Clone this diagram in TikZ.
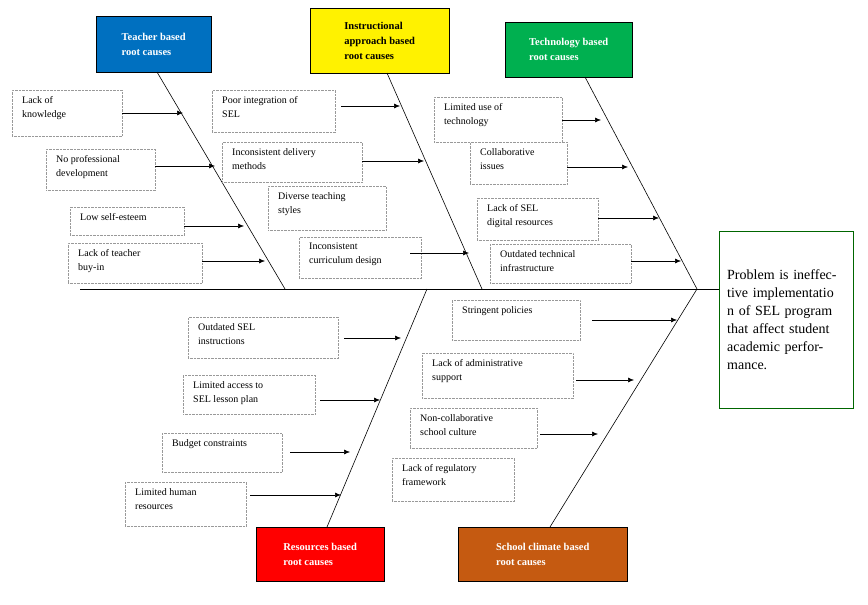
\documentclass[tikz,border=0pt]{standalone}
\usepackage{fontspec}
\setmainfont{Liberation Serif}
\usetikzlibrary{positioning,arrows.meta}

\tikzset{
  cause/.style={draw=gray!80, densely dotted, align=left, anchor=north west,
    inner sep=0pt, font=\fontsize{10}{13}\selectfont},
  category/.style={draw=black, align=left, anchor=north west, inner xsep=5pt,
    font=\bfseries\fontsize{10.5}{15}\selectfont},
  bone/.style={black, line width=0.6pt},
  push/.style={-{Latex[length=6pt,width=5pt]}, line width=0.6pt}
}
\newcommand{\causebox}[6]{% name, x, y, w, h, text
  \node[cause, minimum width=#4pt, minimum height=#5pt] (#1) at (#2,#3) {};
  \node[anchor=north west, align=left, inner sep=0pt,
    font=\fontsize{10}{14}\selectfont] at ([xshift=10pt,yshift=-6pt]#1.north west) {#6};}

\begin{document}
\begin{tikzpicture}[x=1pt,y=-1pt]
\useasboundingbox (0,0) rectangle (868,605);

% problem
\node[draw=green!40!black, anchor=north west, minimum width=134pt, minimum height=177pt,
  text width=118pt, align=left, font=\fontsize{14}{18}\selectfont] (problem) at (719,231)
  {Problem is ineffective implementatio n of SEL program that affect student academic performance.};

% categories
\node[category, fill={rgb,255:red,0;green,112;blue,192}, text=white, minimum width=115pt, minimum height=56pt] (teacher) at (96,16) {Teacher based\\root causes};
\node[category, fill=yellow, minimum width=139pt, minimum height=65pt] (instruct) at (310,8) {Instructional\\approach based\\root causes};
\node[category, fill={rgb,255:red,0;green,176;blue,80}, text=white, minimum width=127pt, minimum height=55pt] (techno) at (505,22) {Technology based\\root causes};
\node[category, fill=red, text=white, minimum width=128pt, minimum height=54pt] (resource) at (256,527) {Resources based\\root causes};
\node[category, fill={rgb,255:red,197;green,90;blue,17}, text=white, minimum width=169pt, minimum height=54pt] (climate) at (458,527) {School climate based\\root causes};

% spine and bones
\coordinate (tail) at (80,289);
\coordinate (head) at (697,289);
\draw[bone] (tail) -- (problem.west |- tail);
\draw[bone] (157,72) -- (285,289);
\draw[bone] (387,73) -- (482,289);
\draw[bone] (585,77) -- (head);
\draw[bone] (427,289) -- (327,527);
\draw[bone] (head) -- (550,527);

% teacher causes
\causebox{know}{12}{90}{110}{46}{Lack of\\knowledge}
\causebox{profdev}{46}{149}{109}{41}{No professional\\development}
\causebox{esteem}{70}{207}{114}{28}{Low self-esteem}
\causebox{buyin}{68}{243}{134}{40}{Lack of teacher\\buy-in}
\draw[push] (122,113) -- (183,113);
\draw[push] (155,166) -- (215,166);
\draw[push] (184,226) -- (244,226);
\draw[push] (202,261) -- (265,261);

% instructional causes
\causebox{integr}{212}{90}{123}{42}{Poor integration of\\SEL}
\causebox{deliver}{222}{142}{140}{40}{Inconsistent delivery\\methods}
\causebox{styles}{268}{186}{118}{44}{Diverse teaching\\styles}
\causebox{curric}{299}{237}{122}{41}{Inconsistent\\curriculum design}
\draw[push] (341,106) -- (400,106);
\draw[push] (362,161) -- (424,161);
\draw[push] (410,253) -- (469,253);

% technology causes
\causebox{usetech}{434}{97}{128}{45}{Limited use of\\technology}
\causebox{collab}{470}{142}{97}{42}{Collaborative\\issues}
\causebox{digital}{477}{198}{121}{42}{Lack of SEL\\digital resources}
\causebox{infra}{490}{244}{141}{39}{Outdated technical\\infrastructure}
\draw[push] (562,120) -- (601,120);
\draw[push] (567,167) -- (628,167);
\draw[push] (598,218) -- (659,218);
\draw[push] (631,261) -- (681,261);

% resource causes
\causebox{instr}{188}{317}{150}{41}{Outdated SEL\\instructions}
\causebox{lesson}{183}{375}{132}{39}{Limited access to\\SEL lesson plan}
\causebox{budget}{162}{433}{120}{39}{Budget constraints}
\causebox{human}{125}{482}{121}{44}{Limited human\\resources}
\draw[push] (344,338) -- (401,338);
\draw[push] (320,400) -- (380,400);
\draw[push] (290,452) -- (350,452);
\draw[push] (250,495) -- (341,495);

% school climate causes
\causebox{policy}{452}{300}{128}{40}{Stringent policies}
\causebox{admin}{422}{353}{151}{45}{Lack of administrative\\support}
\causebox{culture}{410}{408}{127}{40}{Non-collaborative\\school culture}
\causebox{regul}{392}{458}{122}{43}{Lack of regulatory\\framework}
\draw[push] (592,320) -- (677,320);
\draw[push] (576,380) -- (634,380);
\draw[push] (540,434) -- (598,434);
\end{tikzpicture}
\end{document}
